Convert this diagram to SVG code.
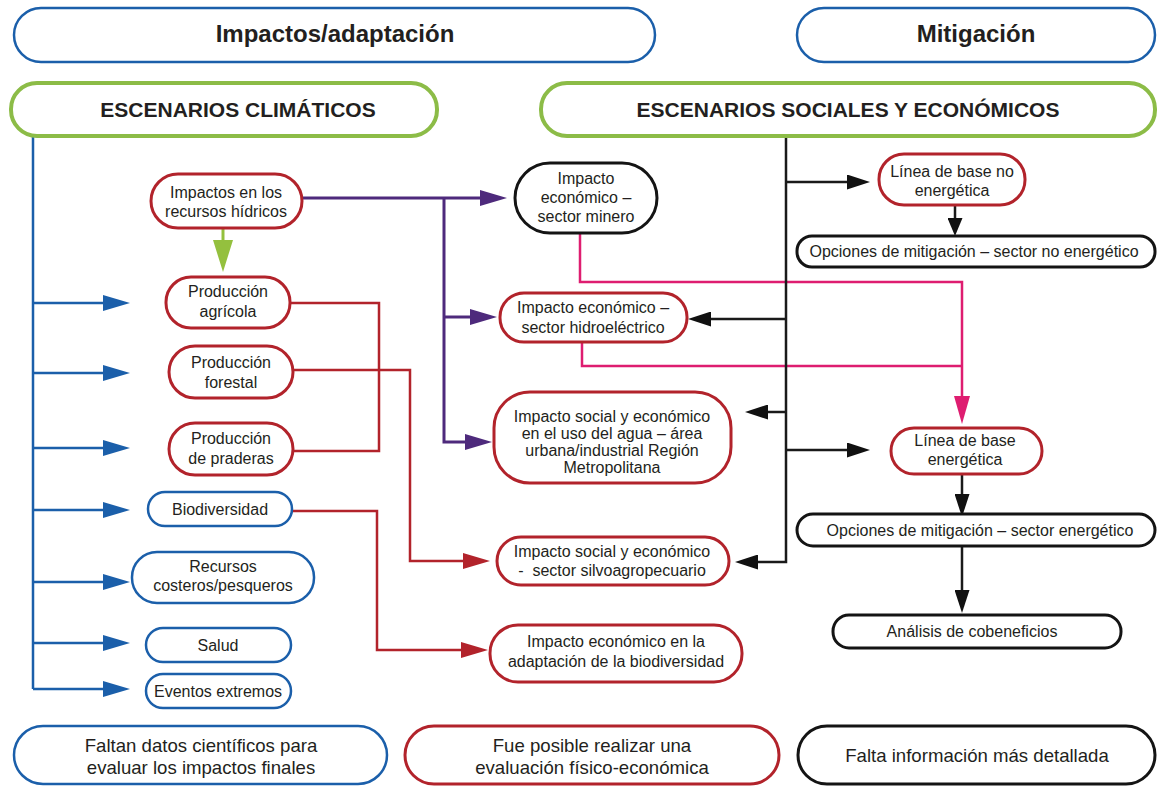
<svg xmlns="http://www.w3.org/2000/svg" width="1158" height="787" viewBox="0 0 1158 787">
<style>
.t{font-family:"Liberation Sans",Arial,sans-serif;font-size:16px;fill:#231f20;text-anchor:middle}
.h1{font-size:24px;font-weight:bold}
.h2{font-size:21px;font-weight:bold}
.b{font-size:18.6px}
.nb{fill:#fff;stroke:#1b5faa;stroke-width:2.5}
.nr{fill:#fff;stroke:#b2232b;stroke-width:3}
.nk{fill:#fff;stroke:#141414;stroke-width:3}
.ng{fill:#fff;stroke:#8cbc47;stroke-width:4}
.c{fill:none;stroke-linejoin:miter}
.cb{stroke:#1b5faa;stroke-width:2.5}
.cp{stroke:#4e2a7c;stroke-width:3}
.cr{stroke:#b2232b;stroke-width:2.5}
.ck{stroke:#1a1a1a;stroke-width:2.5}
.cm{stroke:#de1d70;stroke-width:2.5}
.cg{stroke:#94c03e;stroke-width:3}
</style>
<defs>
<marker id="ab" markerUnits="userSpaceOnUse" markerWidth="27" markerHeight="16" refX="5" refY="8" orient="auto"><path d="M0,0 L27,8 L0,16 z" fill="#1b5faa"/></marker>
<marker id="ap" markerUnits="userSpaceOnUse" markerWidth="27" markerHeight="16" refX="5" refY="8" orient="auto"><path d="M0,0 L27,8 L0,16 z" fill="#4e2a7c"/></marker>
<marker id="ar" markerUnits="userSpaceOnUse" markerWidth="27" markerHeight="16" refX="5" refY="8" orient="auto"><path d="M0,0 L27,8 L0,16 z" fill="#b2232b"/></marker>
<marker id="ak" markerUnits="userSpaceOnUse" markerWidth="23" markerHeight="15" refX="5" refY="7.5" orient="auto"><path d="M0,0 L23,7.5 L0,15 z" fill="#111"/></marker>
<marker id="ak2" markerUnits="userSpaceOnUse" markerWidth="18" markerHeight="15" refX="4" refY="7.5" orient="auto"><path d="M0,0 L18,7.5 L0,15 z" fill="#111"/></marker>
<marker id="am" markerUnits="userSpaceOnUse" markerWidth="28" markerHeight="16" refX="5" refY="8" orient="auto"><path d="M0,0 L28,8 L0,16 z" fill="#de1d70"/></marker>
<marker id="ag" markerUnits="userSpaceOnUse" markerWidth="32" markerHeight="20" refX="5" refY="10" orient="auto"><path d="M0,0 L32,10 L0,20 z" fill="#94c03e"/></marker>
</defs>
<rect width="1158" height="787" fill="#fff"/>

<g id="connectors" class="c">
<path class="cm" d="M580,233 V282 H962 V401" marker-end="url(#am)"/>
<path class="cm" d="M582,342 V366 H962"/>
<path class="cb" d="M33,136 V689"/>
<path class="cb" d="M33,303 H108" marker-end="url(#ab)"/>
<path class="cb" d="M33,373 H108" marker-end="url(#ab)"/>
<path class="cb" d="M33,448 H108" marker-end="url(#ab)"/>
<path class="cb" d="M33,510 H108" marker-end="url(#ab)"/>
<path class="cb" d="M33,582 H108" marker-end="url(#ab)"/>
<path class="cb" d="M33,643 H108" marker-end="url(#ab)"/>
<path class="cb" d="M33,689 H108" marker-end="url(#ab)"/>
<path class="cg" d="M223,228 V245" marker-end="url(#ag)"/>
<path class="cp" d="M302,198 H485" marker-end="url(#ap)"/>
<path class="cp" d="M444,198 V442 H470" marker-end="url(#ap)"/>
<path class="cp" d="M444,317 H475" marker-end="url(#ap)"/>
<path class="cr" d="M290,303 H379 V451 H293"/>
<path class="cr" d="M293,370 H410 V561 H468" marker-end="url(#ar)"/>
<path class="cr" d="M292,511 H377 V650 H466" marker-end="url(#ar)"/>
<path class="ck" d="M786,136 V562 H753" marker-end="url(#ak)"/>
<path class="ck" d="M786,182 H852" marker-end="url(#ak)"/>
<path class="ck" d="M786,319 H706" marker-end="url(#ak)"/>
<path class="ck" d="M786,412 H763" marker-end="url(#ak)"/>
<path class="ck" d="M786,450 H852" marker-end="url(#ak)"/>
<path class="ck" d="M955,206 V222" marker-end="url(#ak2)"/>
<path class="ck" d="M962,475 V499" marker-end="url(#ak)"/>
<path class="ck" d="M962,547 V595" marker-end="url(#ak)"/>
</g>

<g id="h-impactos"><rect class="nb" x="14" y="8" width="641" height="54" rx="27"/><text class="t h1" x="335" y="42">Impactos/adaptación</text></g>
<g id="h-mitigacion"><rect class="nb" x="797" y="8" width="358" height="54" rx="27"/><text class="t h1" x="976" y="42">Mitigación</text></g>
<g id="esc-clim"><rect class="ng" x="11" y="83" width="426" height="53" rx="26"/><text class="t h2" x="238" y="117">ESCENARIOS CLIMÁTICOS</text></g>
<g id="esc-soc"><rect class="ng" x="541" y="83" width="614" height="53" rx="26"/><text class="t h2" x="848" y="117">ESCENARIOS SOCIALES Y ECONÓMICOS</text></g>

<g id="n-hidricos"><rect class="nr" x="151" y="174" width="151" height="54" rx="27"/><text class="t" x="226" y="198">Impactos en los</text><text class="t" x="226" y="217">recursos hídricos</text></g>
<g id="n-agricola"><rect class="nr" x="166" y="277" width="124" height="51" rx="25"/><text class="t" x="228" y="297">Producción</text><text class="t" x="228" y="317">agrícola</text></g>
<g id="n-forestal"><rect class="nr" x="169" y="346" width="124" height="52" rx="26"/><text class="t" x="231" y="368">Producción</text><text class="t" x="231" y="388">forestal</text></g>
<g id="n-praderas"><rect class="nr" x="169" y="423" width="124" height="52" rx="26"/><text class="t" x="231" y="444">Producción</text><text class="t" x="231" y="464">de praderas</text></g>
<g id="n-biodiv"><rect class="nb" x="148" y="492" width="144" height="34" rx="17"/><text class="t" x="220" y="515">Biodiversidad</text></g>
<g id="n-costeros"><rect class="nb" x="132" y="552" width="182" height="51" rx="25"/><text class="t" x="223" y="572">Recursos</text><text class="t" x="223" y="591">costeros/pesqueros</text></g>
<g id="n-salud"><rect class="nb" x="146" y="628" width="145" height="34" rx="17"/><text class="t" x="218" y="651">Salud</text></g>
<g id="n-eventos"><rect class="nb" x="146" y="674" width="145" height="34" rx="17"/><text class="t" x="218" y="697">Eventos extremos</text></g>

<g id="n-minero"><rect class="nk" x="515" y="163" width="142" height="70" rx="35"/><text class="t" x="586" y="184">Impacto</text><text class="t" x="586" y="203">económico –</text><text class="t" x="586" y="222">sector minero</text></g>
<g id="n-hidroelec"><rect class="nr" x="500" y="293" width="187" height="49" rx="24"/><text class="t" x="593" y="313">Impacto económico –</text><text class="t" x="593" y="333">sector hidroeléctrico</text></g>
<g id="n-agua"><rect class="nr" x="494" y="392" width="237" height="91" rx="36"/><text class="t" x="612" y="422">Impacto social y económico</text><text class="t" x="612" y="439">en el uso del agua – área</text><text class="t" x="612" y="456">urbana/industrial Región</text><text class="t" x="612" y="473">Metropolitana</text></g>
<g id="n-silvo"><rect class="nr" x="497" y="537" width="232" height="48" rx="24"/><text class="t" x="612" y="557">Impacto social y económico</text><text class="t" x="612" y="576" xml:space="preserve">-  sector silvoagropecuario</text></g>
<g id="n-adapt"><rect class="nr" x="490" y="625" width="252" height="57" rx="28"/><text class="t" x="616" y="647">Impacto económico en la</text><text class="t" x="616" y="667">adaptación de la biodiversidad</text></g>

<g id="n-lbne"><rect class="nr" x="879" y="154" width="146" height="51" rx="25"/><text class="t" x="952" y="177">Línea de base no</text><text class="t" x="952" y="196">energética</text></g>
<g id="n-opne"><rect class="nk" x="797" y="236" width="358" height="31" rx="15"/><text class="t" x="974" y="257">Opciones de mitigación – sector no energético</text></g>
<g id="n-lbe"><rect class="nr" x="891" y="428" width="151" height="46" rx="23"/><text class="t" x="965" y="446">Línea de base</text><text class="t" x="965" y="465">energética</text></g>
<g id="n-ope"><rect class="nk" x="797" y="514" width="358" height="32" rx="16"/><text class="t" x="980" y="536">Opciones de mitigación – sector energético</text></g>
<g id="n-cob"><rect class="nk" x="833" y="615" width="288" height="33" rx="16"/><text class="t" x="972" y="637">Análisis de cobeneficios</text></g>

<g id="l-faltan"><rect class="nb" x="14" y="726" width="373" height="58" rx="29"/><text class="t b" x="201" y="752">Faltan datos científicos para</text><text class="t b" x="201" y="774">evaluar los impactos finales</text></g>
<g id="l-fue"><rect class="nr" x="405" y="726" width="374" height="58" rx="29"/><text class="t b" x="592" y="752">Fue posible realizar una</text><text class="t b" x="592" y="774">evaluación físico-económica</text></g>
<g id="l-falta"><rect class="nk" x="798" y="726" width="357" height="58" rx="29"/><text class="t b" x="977" y="762">Falta información más detallada</text></g>
</svg>
